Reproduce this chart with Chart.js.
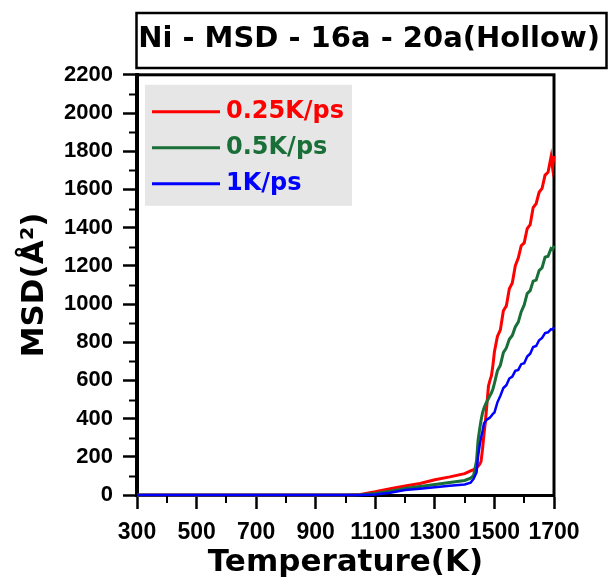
<!DOCTYPE html>
<html lang="en">
<head>
<meta charset="UTF-8">
<title>Ni - MSD - 16a - 20a(Hollow)</title>
<style>
    html, body { margin: 0; padding: 0; background: #ffffff; overflow: hidden; }
    #wrap { width: 608px; height: 585px; }
</style>
<script src="https://cdn.jsdelivr.net/npm/chart.js@4.4.0/dist/chart.umd.min.js"></script>
</head>
<body>
<div id="wrap"><canvas id="myChart" width="608" height="585"></canvas></div>
<script>
    // temperature (K) sampled along the curves
    const temps = [300, 400, 500, 600, 700, 800, 900, 1000, 1050, 1100, 1150, 1200, 1250, 1300, 1350, 1400,
        1420, 1430, 1440, 1445, 1450, 1455, 1460, 1465, 1470, 1475, 1480, 1485, 1490, 1495, 1500,
        1510, 1520, 1530, 1540, 1550, 1560, 1570, 1580, 1590, 1600, 1610, 1620, 1630, 1640, 1650,
        1660, 1670, 1680, 1690, 1695, 1700];

    // MSD (A^2) for each heating rate
    const msd025 = [0, 0, 0, 0, 0, 0, 0, 0, 3, 17, 33, 47, 60, 80, 95, 112,
        126, 133, 142, 150, 160, 175, 240, 320, 390, 480, 570, 600, 625, 680, 750,
        830, 865, 965, 990, 1080, 1110, 1200, 1240, 1305, 1320, 1395, 1415, 1505, 1525, 1585,
        1605, 1675, 1690, 1770, 1715, 1775];
    const msd05 = [0, 0, 0, 0, 0, 0, 0, 0, 1, 8, 20, 34, 45, 55, 65, 76,
        88, 102, 180, 285, 340, 390, 430, 455, 475, 490, 505, 520, 535, 555, 585,
        650, 680, 745, 770, 815, 835, 880, 905, 960, 995, 1055, 1070, 1120, 1125, 1175,
        1190, 1245, 1250, 1290, 1285, 1305];
    const msd1 = [0, 0, 0, 0, 0, 0, 0, 0, 0, 3, 12, 26, 33, 40, 48, 55,
        65, 84, 118, 200, 255, 300, 335, 375, 385, 395, 400, 405, 415, 425, 432,
        485, 520, 560, 575, 610, 620, 650, 655, 685, 690, 725, 740, 775, 780, 810,
        822, 848, 852, 868, 866, 878];

    const seriesNames = ["0.25K/ps", "0.5K/ps", "1K/ps"];
    const seriesColors = ["#ff0000", "#1a6e37", "#0000ff"];
    const seriesWidths = [3, 3, 2.5];
    const seriesData = [msd025, msd05, msd1];

    const yTicks = [0, 200, 400, 600, 800, 1000, 1200, 1400, 1600, 1800, 2000, 2200];
    const xTicks = [300, 500, 700, 900, 1100, 1300, 1500, 1700];

    const titleText = "Ni - MSD - 16a - 20a(Hollow)";

    const bigFont = "'DejaVu Sans', sans-serif";
    const tickFont = "'Liberation Sans', Arial, sans-serif";

    // frame around the plot, title box, minor ticks and the grey legend
    const decorations = {
        id: 'decorations',
        beforeDatasetsDraw(chart) {
            const ctx = chart.ctx;
            const a = chart.chartArea;
            ctx.save();
            ctx.strokeStyle = '#000';
            ctx.lineWidth = 3;
            ctx.strokeRect(a.left - 0.5, a.top, a.right - a.left + 0.5, a.bottom - a.top + 0.5);
            ctx.restore();
        },
        afterDraw(chart) {
            const ctx = chart.ctx;
            const a = chart.chartArea;
            const xs = chart.scales.x;
            const ys = chart.scales.y;
            ctx.save();
            ctx.strokeStyle = '#000';

            // minor ticks
            ctx.lineWidth = 2;
            ctx.beginPath();
            for (let v = 100; v < 2200; v += 200) {
                const py = Math.round(ys.getPixelForValue(v)) + 0.5;
                ctx.moveTo(a.left - 1, py);
                ctx.lineTo(a.left - 8, py);
            }
            for (let v = 400; v < 1700; v += 200) {
                const px = Math.round(xs.getPixelForValue(v));
                ctx.moveTo(px, a.bottom + 1);
                ctx.lineTo(px, a.bottom + 8);
            }
            ctx.stroke();

            // title box
            ctx.lineWidth = 2.5;
            ctx.strokeRect(a.left - 0.5, 13, chart.width - a.left - 1, 55);

            // legend
            const lx = a.left + 8, ly = a.top + 10;
            ctx.fillStyle = '#e6e6e6';
            ctx.fillRect(lx, ly, 207, 121);
            ctx.font = "bold 24px " + bigFont;
            ctx.textBaseline = 'middle';
            ctx.textAlign = 'left';
            for (let i = 0; i < seriesNames.length; i++) {
                const ry = ly + 27 + i * 36;
                ctx.strokeStyle = seriesColors[i];
                ctx.lineWidth = 3;
                ctx.beginPath();
                ctx.moveTo(lx + 7, ry);
                ctx.lineTo(lx + 75, ry);
                ctx.stroke();
                ctx.fillStyle = seriesColors[i];
                ctx.fillText(seriesNames[i], lx + 81, ry);
            }
            ctx.restore();
        }
    };

    function show() {
        const ctx = document.getElementById("myChart").getContext('2d');
        const datasets = seriesData.map((vals, i) => ({
            label: seriesNames[i],
            data: temps.map((t, j) => ({ x: t, y: vals[j] })),
            borderColor: seriesColors[i],
            backgroundColor: seriesColors[i],
            borderWidth: seriesWidths[i],
            pointRadius: 0,
            tension: 0,
            fill: false,
            clip: 4
        })).reverse();

        new Chart(ctx, {
            type: 'line',
            data: { datasets: datasets },
            plugins: [decorations],
            options: {
                responsive: false,
                animation: false,
                layout: { padding: { top: 12, right: 8, left: 0, bottom: 0 } },
                plugins: {
                    legend: { display: false },
                    tooltip: { enabled: false },
                    title: {
                        display: true,
                        text: titleText,
                        align: 'end',
                        color: '#000',
                        font: { family: bigFont, size: 29, weight: 'bold' },
                        padding: { top: 10, bottom: 18 }
                    }
                },
                scales: {
                    x: {
                        type: 'linear',
                        min: 300,
                        max: 1700,
                        afterFit(scale) { scale.height = 90; },
                        afterBuildTicks(scale) { scale.ticks = xTicks.map(v => ({ value: v })); },
                        border: { display: true, color: '#000', width: 3 },
                        grid: { drawOnChartArea: false, color: '#000', tickLength: 14, tickWidth: 2.5, tickColor: '#000' },
                        ticks: {
                            autoSkip: false,
                            maxRotation: 0,
                            padding: 10,
                            color: '#000',
                            font: { family: tickFont, size: 23, weight: 'bold' },
                            callback: v => String(v)
                        },
                        title: {
                            display: true,
                            text: 'Temperature(K)',
                            color: '#000',
                            font: { family: bigFont, size: 31, weight: 'bold' },
                            padding: { top: 0, bottom: 3 }
                        }
                    },
                    y: {
                        position: 'left',
                        min: 0,
                        max: 2200,
                        afterFit(scale) { scale.width = 137; },
                        afterBuildTicks(scale) { scale.ticks = yTicks.map(v => ({ value: v })); },
                        border: { display: true, color: '#000', width: 3 },
                        grid: { drawOnChartArea: false, color: '#000', tickLength: 14, tickWidth: 2.5, tickColor: '#000' },
                        ticks: {
                            padding: 10,
                            color: '#000',
                            font: { family: tickFont, size: 22, weight: 'bold' },
                            callback: v => String(v)
                        },
                        title: {
                            display: true,
                            text: 'MSD(Å²)',
                            color: '#000',
                            font: { family: bigFont, size: 31, weight: 'bold' },
                            padding: { top: 16, bottom: 0 }
                        }
                    },
                    y2: {
                        position: 'right',
                        min: 0,
                        max: 2200,
                        afterFit(scale) { scale.width = 46; },
                        border: { display: false },
                        grid: { display: false },
                        ticks: { display: false }
                    }
                }
            }
        });
    }
    show();
</script>
</body>
</html>
